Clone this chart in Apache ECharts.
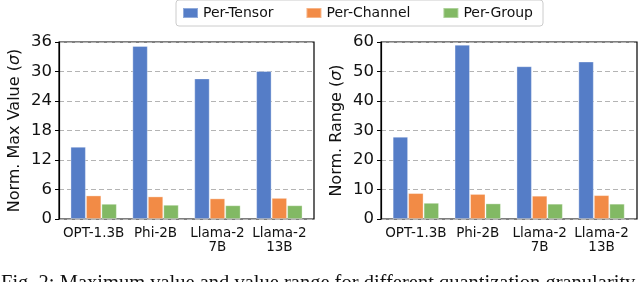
<!DOCTYPE html>
<html>
<head>
<meta charset="utf-8">
<script src="https://cdn.jsdelivr.net/npm/echarts@6/dist/echarts.min.js"></script>
<style>
html,body{margin:0;padding:0;background:#fff;}
#chart{width:640px;height:282px;}
</style>
</head>
<body>
<div id="chart"></div>
<script>
const categories = ['OPT-1.3B', 'Phi-2B', 'Llama-2\n7B', 'Llama-2\n13B'];
const seriesNames = ['Per-Tensor', 'Per-Channel', 'Per-Group'];
const maxPerTensor = [14.7, 35.2, 28.6, 30.1];
const maxPerChannel = [4.8, 4.6, 4.2, 4.3];
const maxPerGroup = [3.1, 2.9, 2.8, 2.8];
const rangePerTensor = [27.9, 59.1, 51.8, 53.4];
const rangePerChannel = [8.8, 8.5, 7.9, 8.1];
const rangePerGroup = [5.5, 5.3, 5.2, 5.2];
const maxTicks = {min: 0, max: 36, interval: 6};
const rangeTicks = {min: 0, max: 60, interval: 10};
const caption = 'Fig. 2: Maximum value and value range for different quantization granularity';

const FONT = 'DejaVu Sans';
const colors = ['#557dc7', '#f28b46', '#82b964'];

const chart = echarts.init(document.getElementById('chart'), null, {renderer: 'canvas'});

function frameY(gi, ticks, name, nameSize, nameGap) {
  return {
    gridIndex: gi, type: 'value', min: ticks.min, max: ticks.max, interval: ticks.interval,
    axisLine: {show: true, lineStyle: {color: '#000', width: 1.2}},
    axisTick: {show: true, length: 4, lineStyle: {color: '#000', width: 1}},
    axisLabel: {fontFamily: FONT, fontSize: 16.5, color: '#111', margin: 7},
    splitLine: {show: true, lineStyle: {color: '#b4b4b4', type: [5, 3], width: 1}},
    name: name, nameLocation: 'middle', nameGap: nameGap,
    nameTextStyle: {fontFamily: FONT, fontSize: nameSize, color: '#111',
      rich: {i: {fontFamily: FONT, fontSize: nameSize, fontStyle: 'italic', color: '#111'}}}
  };
}
function hiddenY(gi, ticks) {
  return {gridIndex: gi, type: 'value', min: ticks.min, max: ticks.max, interval: ticks.interval, show: false, splitLine: {show: false}};
}
function catX(gi) {
  return {
    gridIndex: gi, type: 'category', data: categories,
    axisLine: {show: false}, axisTick: {show: false},
    axisLabel: {fontFamily: FONT, fontSize: 13.5, color: '#111', margin: 8, lineHeight: 13.5, interval: 0}
  };
}
function hiddenX(gi) {
  return {gridIndex: gi, type: 'value', min: 0, max: 1, show: false, splitLine: {show: false}};
}
function bar(name, data, ai, ci) {
  return {
    name: name, type: 'bar', xAxisIndex: ai, yAxisIndex: ai, data: data,
    barGap: '0%', barCategoryGap: '25%',
    itemStyle: {color: colors[ci], borderColor: 'rgba(255,255,255,0.35)', borderWidth: 1},
    emphasis: {disabled: true}
  };
}

const option = {
  animation: false,
  color: colors,
  textStyle: {fontFamily: FONT},
  legend: {
    data: seriesNames, left: 176, top: 0, orient: 'horizontal',
    padding: [6, 10, 6, 6], itemGap: 32, itemWidth: 15, itemHeight: 10,
    icon: 'rect',
    textStyle: {fontFamily: FONT, fontSize: 14, color: '#111'},
    borderColor: '#cccccc', borderWidth: 1, borderRadius: 3
  },
  grid: [
    {left: 59, top: 42, width: 255, height: 177, show: true, borderColor: '#000', borderWidth: 1.2, backgroundColor: 'transparent'},
    {left: 62.7, top: 42, width: 247.6, height: 177},
    {left: 381, top: 42, width: 256, height: 177, show: true, borderColor: '#000', borderWidth: 1.2, backgroundColor: 'transparent'},
    {left: 384.9, top: 42, width: 247.6, height: 177}
  ],
  xAxis: [hiddenX(0), catX(1), hiddenX(2), catX(3)],
  yAxis: [
    frameY(0, maxTicks, 'Norm. Max Value ({i|σ})', 16, 36),
    hiddenY(1, maxTicks),
    frameY(2, rangeTicks, 'Norm. Range ({i|σ})', 16, 36),
    hiddenY(3, rangeTicks)
  ],
  series: [
    bar(seriesNames[0], maxPerTensor, 1, 0),
    bar(seriesNames[1], maxPerChannel, 1, 1),
    bar(seriesNames[2], maxPerGroup, 1, 2),
    bar(seriesNames[0], rangePerTensor, 3, 0),
    bar(seriesNames[1], rangePerChannel, 3, 1),
    bar(seriesNames[2], rangePerGroup, 3, 2)
  ],
  graphic: [{
    type: 'text', left: 1, top: 273, silent: true,
    style: {text: caption, font: '20.5px "Liberation Serif"', fill: '#111'}
  }]
};
chart.setOption(option);
</script>
</body>
</html>
